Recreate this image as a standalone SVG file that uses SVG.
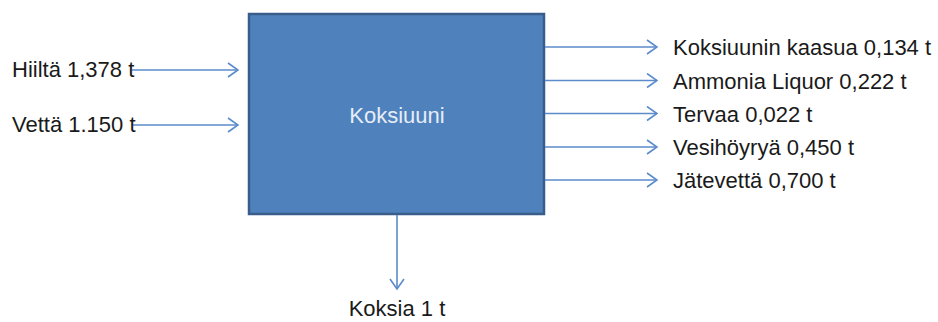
<svg xmlns="http://www.w3.org/2000/svg" width="938" height="322" viewBox="0 0 938 322">
  <style>
    .lbl { font-family: "Liberation Sans", Arial, sans-serif; font-size: 22px; fill: #1a1a1a; }
    .title { font-family: "Liberation Sans", Arial, sans-serif; font-size: 22px; fill: #e6edf7; }
    .flow { stroke: #5b8bcb; stroke-width: 1.6; fill: none; }
  </style>
  <defs>
    <marker id="arrow" viewBox="0 0 12 16" refX="11" refY="8" markerWidth="12" markerHeight="16" markerUnits="userSpaceOnUse" orient="auto">
      <path d="M1,1 L11,8 L1,15" fill="none" stroke="#5b8bcb" stroke-width="1.6"/>
    </marker>
  </defs>
  <rect width="938" height="322" fill="#ffffff"/>

  <g id="koksiuuni">
    <rect x="249" y="14" width="295" height="200" fill="#4f81bd" stroke="#385d8a" stroke-width="2.5"/>
    <text class="title" x="397" y="123" text-anchor="middle">Koksiuuni</text>
  </g>

  <g id="connectors">
    <line class="flow" x1="132" y1="70" x2="238" y2="70" marker-end="url(#arrow)"/>
    <line class="flow" x1="132" y1="125" x2="238" y2="125" marker-end="url(#arrow)"/>
    <line class="flow" x1="545" y1="47" x2="657" y2="47" marker-end="url(#arrow)"/>
    <line class="flow" x1="545" y1="80.5" x2="657" y2="80.5" marker-end="url(#arrow)"/>
    <line class="flow" x1="545" y1="113.5" x2="657" y2="113.5" marker-end="url(#arrow)"/>
    <line class="flow" x1="545" y1="147" x2="657" y2="147" marker-end="url(#arrow)"/>
    <line class="flow" x1="545" y1="180" x2="657" y2="180" marker-end="url(#arrow)"/>
    <line class="flow" x1="397" y1="215" x2="397" y2="289" marker-end="url(#arrow)"/>
  </g>

  <g id="input-hiili">
    <text class="lbl" x="12" y="77">Hiiltä 1,378 t</text>
  </g>
  <g id="input-vesi">
    <text class="lbl" x="12" y="132">Vettä 1.150 t</text>
  </g>
  <g id="output-kaasu">
    <text class="lbl" x="673" y="55">Koksiuunin kaasua 0,134 t</text>
  </g>
  <g id="output-ammonia">
    <text class="lbl" x="673" y="88.5">Ammonia Liquor 0,222 t</text>
  </g>
  <g id="output-terva">
    <text class="lbl" x="673" y="121.5">Tervaa 0,022 t</text>
  </g>
  <g id="output-vesihoyry">
    <text class="lbl" x="673" y="155">Vesihöyryä 0,450 t</text>
  </g>
  <g id="output-jatevesi">
    <text class="lbl" x="673" y="188">Jätevettä 0,700 t</text>
  </g>
  <g id="output-koksi">
    <text class="lbl" x="397" y="316" text-anchor="middle">Koksia 1 t</text>
  </g>
</svg>
